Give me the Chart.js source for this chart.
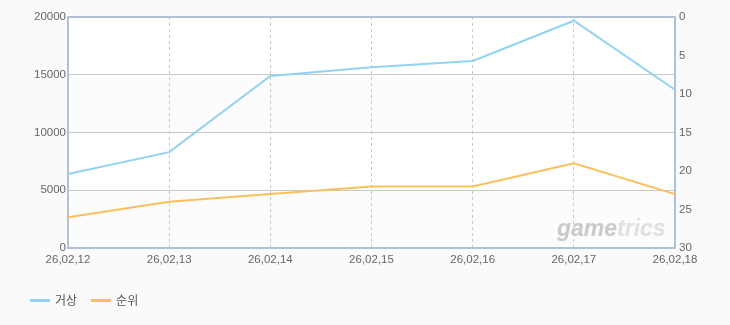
<!DOCTYPE html>
<html>
<head>
<meta charset="utf-8">
<script src="https://cdn.jsdelivr.net/npm/chart.js@4"></script>
<style>
  html, body { margin: 0; padding: 0; background: #fafafa; }
  #wrap { position: relative; width: 730px; height: 325px; }
  #legend { position: absolute; left: 30px; top: 291px; font: 12px "Liberation Sans", "Noto Sans CJK KR", sans-serif; color: #555; }
  #legend span.item { display: inline-block; margin-right: 14px; }
  #legend span.swatch { display: inline-block; width: 20px; height: 3px; vertical-align: middle; margin-right: 5px; position: relative; top: -1px; }
</style>
</head>
<body>
<div id="wrap">
  <canvas id="trendChart" width="730" height="325"></canvas>
  <div id="legend"></div>
</div>
<script>
// chart data
var dates = ['26,02,12', '26,02,13', '26,02,14', '26,02,15', '26,02,16', '26,02,17', '26,02,18'];
var tradeVolume = [6400, 8300, 14900, 15650, 16200, 19680, 13700];
var rankings = [26, 24, 23, 22, 22, 19, 23];
var seriesNames = ['거상', '순위'];
var seriesColors = ['#92d2f2', '#fdbf5e'];

var tickFont = { family : '"Liberation Sans", "Noto Sans CJK KR", sans-serif', size : 11.5 };
var axisColor = '#b2c2d6';

/** alternating bands, top border and watermark */
var plotDecor = {
  id : 'plotDecor',
  beforeDraw : function (chart) {
    var ctx = chart.ctx;
    var area = chart.chartArea;
    var y = chart.scales.y;
    var bands = [[20000, 15000, '#ffffff'], [15000, 10000, '#fcfcfc'], [10000, 5000, '#ffffff'], [5000, 0, '#fcfcfc']];
    ctx.save();
    bands.forEach(function (b) {
      var top = y.getPixelForValue(b[0]);
      var bottom = y.getPixelForValue(b[1]);
      ctx.fillStyle = b[2];
      ctx.fillRect(area.left, top, area.right - area.left, bottom - top);
    });
    ctx.font = 'italic bold 23px "Liberation Sans", sans-serif';
    ctx.textBaseline = 'alphabetic';
    ctx.textAlign = 'left';
    ctx.fillStyle = '#c9c9c9';
    var x0 = area.right - 118;
    var yb = area.bottom - 12;
    ctx.fillText('game', x0, yb);
    var w = ctx.measureText('game').width;
    ctx.fillStyle = '#e0e0e0';
    ctx.fillText('trics', x0 + w, yb);
    ctx.restore();
  },
  afterDraw : function (chart) {
    var ctx = chart.ctx;
    var area = chart.chartArea;
    ctx.save();
    ctx.strokeStyle = axisColor;
    ctx.lineWidth = 2;
    ctx.beginPath();
    ctx.moveTo(area.left - 1, area.top);
    ctx.lineTo(area.right + 1, area.top);
    ctx.stroke();
    ctx.restore();
  },
};

var ctx = document.getElementById('trendChart').getContext('2d');

var trendChart = new Chart(ctx, {
  type : 'line',
  plugins : [plotDecor],
  data : {
    labels : dates,
    datasets : [
      {
        label : seriesNames[0],
        data : tradeVolume,
        yAxisID : 'y',
        borderColor : seriesColors[0],
        backgroundColor : seriesColors[0],
        borderWidth : 2,
        tension : 0,
        pointRadius : 0,
      },
      {
        label : seriesNames[1],
        data : rankings,
        yAxisID : 'y2',
        borderColor : seriesColors[1],
        backgroundColor : seriesColors[1],
        borderWidth : 2,
        tension : 0,
        pointRadius : 0,
      },
    ],
  },
  options : {
    responsive : false,
    animation : false,
    layout : { padding : { top : 17, bottom : 57, left : 0, right : 0 } },
    plugins : {
      legend : { display : false },
      tooltip : { enabled : false },
    },
    scales : {
      x : {
        offset : false,
        grid : {
          color : function (c) { return (c.index === 0 || c.index === dates.length - 1) ? 'rgba(0,0,0,0)' : '#c8c8c8'; },
          lineWidth : 1,
          drawTicks : false,
        },
        border : { display : true, color : axisColor, width : 2, dash : [3, 3] },
        ticks : { color : '#666', font : tickFont, padding : 5, maxRotation : 0, autoSkip : false },
        afterFit : function (scale) { scale.height = 20; },
      },
      y : {
        position : 'left',
        min : 0,
        max : 20000,
        grid : {
          color : function (c) { return (c.tick.value === 0 || c.tick.value === 20000) ? 'rgba(0,0,0,0)' : '#c8c8c8'; },
          drawTicks : false,
        },
        border : { display : true, color : axisColor, width : 2 },
        ticks : {
          stepSize : 5000,
          color : '#666',
          font : tickFont,
          padding : 2,
          callback : function (v) { return String(v); },
        },
        afterFit : function (scale) { scale.width = 68; },
      },
      y2 : {
        position : 'right',
        reverse : true,
        min : 0,
        max : 30,
        grid : { display : false, drawTicks : false },
        border : { display : true, color : axisColor, width : 2 },
        ticks : { stepSize : 5, color : '#666', font : tickFont, padding : 4 },
        afterFit : function (scale) { scale.width = 55; },
      },
    },
  },
});

// html legend
var legend = document.getElementById('legend');
seriesNames.forEach(function (name, i) {
  var item = document.createElement('span');
  item.className = 'item';
  var sw = document.createElement('span');
  sw.className = 'swatch';
  sw.style.background = seriesColors[i];
  item.appendChild(sw);
  item.appendChild(document.createTextNode(name));
  legend.appendChild(item);
});
</script>
</body>
</html>
